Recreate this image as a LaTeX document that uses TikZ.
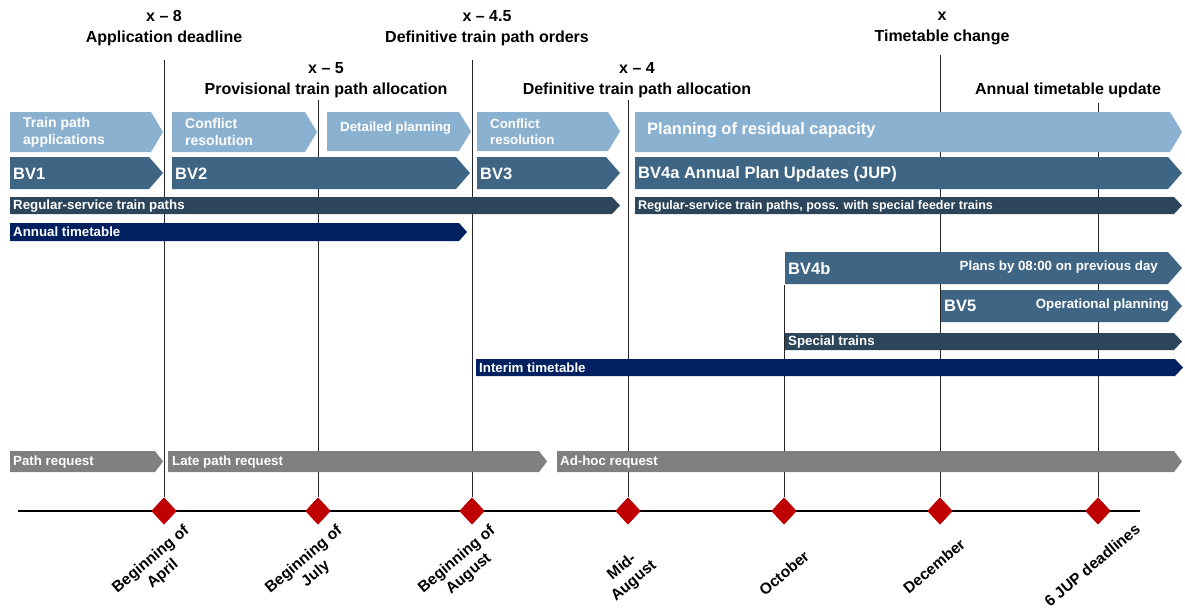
\documentclass[tikz,border=0pt]{standalone}
\usepackage{fontspec}
\setmainfont{Liberation Sans}
\usetikzlibrary{shapes.geometric}

\definecolor{planblue}{RGB}{139,177,209}
\definecolor{bvblue}{RGB}{63,101,133}
\definecolor{pathslate}{RGB}{44,69,90}
\definecolor{ttnavy}{RGB}{0,32,96}
\definecolor{reqgray}{RGB}{128,128,128}
\definecolor{msred}{RGB}{192,0,0}

\tikzset{
  milestone/.style={diamond,fill=msred,minimum width=25pt,minimum height=27pt,inner sep=0pt},
  msline/.style={draw=black!85,line width=0.9pt},
  axisline/.style={draw=black,line width=1.2pt},
  headtext/.style={font=\fontsize{16}{21}\selectfont\bfseries,align=center,inner sep=0pt},
  datetext/.style={font=\fontsize{15.5}{18.5}\selectfont\bfseries,align=center,rotate=40,inner sep=0pt},
  bartext/.style={anchor=west,text=white,font=\fontsize{13.3}{16}\selectfont\bfseries,inner sep=0pt,align=left},
  steptext/.style={bartext,font=\fontsize{14}{17}\selectfont\bfseries},
  bvtext/.style={bartext,font=\fontsize{16.5}{18}\selectfont\bfseries},
}

% bar with arrow point: colour, x1, x2, top, bottom, depth of point
\newcommand{\phasebar}[6]{%
  \fill[#1] (#2,#4) -- ({#3-#6},#4) -- (#3,{(#4+#5)/2}) -- ({#3-#6},#5) -- (#2,#5) -- cycle;}

\begin{document}
\begin{tikzpicture}[x=1pt,y=-1pt]
\useasboundingbox[fill=white] (0,0) rectangle (1185,610);

% milestone headings
\node[headtext] (hApp) at (164,28) {x – 8\\Application deadline};
\node[headtext] (hOrd) at (487,28) {x – 4.5\\Definitive train path orders};
\node[headtext] (hTT) at (942,28) {x\\Timetable change};
\node[headtext] (hProv) at (326,80) {x – 5\\Provisional train path allocation};
\node[headtext] (hDef) at (637,80) {x – 4\\Definitive train path allocation};
\node[headtext] (hJUP) at (1068,90) {Annual timetable update};

% time axis
\coordinate (axL) at (18,511);
\coordinate (axR) at (1140,511);
\draw[axisline] (axL) -- (axR);

% milestones
\foreach \mx/\mtop/\mname/\lx/\ly/\mdate in {
    164/60/apr/157/567/{Beginning of\\April},
    318/100/jul/310/567/{Beginning of\\July},
    472/60/aug/463/567/{Beginning of\\August},
    628/100/mid/628/574/{Mid-\\August},
    784/285/oct/784/573/{October},
    940/55/dec/934/566/{December},
    1098/103/jup/1092/565/{6 JUP deadlines}}{
  \coordinate (t\mname) at (\mx,\mtop);
  \node[milestone] (d\mname) at (\mx,511) {};
  \draw[msline] (t\mname) -- (d\mname.north);
  \node[datetext] (l\mname) at (\lx,\ly) {\mdate};
}
\foreach \mname in {apr,jul,aug,mid,oct,dec,jup}
  \node[milestone] at (d\mname) {};

% row 1: planning steps
\phasebar{planblue}{10}{163}{112}{152}{12}
\phasebar{planblue}{172}{317}{112}{152}{12}
\phasebar{planblue}{327}{471}{112}{151}{12}
\phasebar{planblue}{477}{620}{112}{151}{12}
\phasebar{planblue}{635}{1182}{112}{152}{12}
\node[steptext] (appl) at (23,132) {Train path\\applications};
\node[steptext] (conf1) at (185,132) {Conflict\\resolution};
\node[bartext] (detail) at (340,128) {Detailed planning};
\node[bartext] (conf2) at (490,132) {Conflict\\resolution};
\node[bartext,font=\fontsize{16.5}{18}\selectfont\bfseries] (resid) at (647,130) {Planning of residual capacity};

% row 2: BV phases
\phasebar{bvblue}{10}{163}{157}{189}{14}
\phasebar{bvblue}{172}{470}{157}{189}{14}
\phasebar{bvblue}{477}{620}{157}{189}{14}
\phasebar{bvblue}{635}{1182}{157}{189}{14}
\node[bvtext] (bv1) at (13,174) {BV1};
\node[bvtext] (bv2) at (175,174) {BV2};
\node[bvtext] (bv3) at (480,174) {BV3};
\node[bvtext] (bv4a) at (638,174) {BV4a Annual Plan Updates (JUP)};

% train paths and timetables
\phasebar{pathslate}{10}{620}{197}{214}{8}
\phasebar{pathslate}{635}{1182}{197}{214}{8}
\phasebar{ttnavy}{10}{467}{223}{241}{8}
\node[bartext] (reg1) at (13,206) {Regular-service train paths};
\node[bartext,font=\fontsize{12.5}{15}\selectfont\bfseries] (reg2) at (638,206) {Regular-service train paths, poss. with special feeder trains};
\node[bartext] (annual) at (13,232) {Annual timetable};

% short-term phases
\phasebar{bvblue}{785}{1182}{252}{284}{14}
\phasebar{bvblue}{941}{1182}{290}{322}{14}
\node[bvtext] (bv4b) at (788,269) {BV4b};
\node[bartext,anchor=east] (prevday) at (1158,267) {Plans by 08:00 on previous day};
\node[bvtext] (bv5) at (944,306) {BV5};
\node[bartext,anchor=east] (oper) at (1169,305) {Operational planning};
\phasebar{pathslate}{785}{1182}{333}{350}{8}
\phasebar{ttnavy}{476}{1183}{359}{376}{8}
\node[bartext] (special) at (788,342) {Special trains};
\node[bartext] (interim) at (479,368) {Interim timetable};

% requests
\phasebar{reqgray}{10}{163}{451}{472}{8}
\phasebar{reqgray}{168}{547}{451}{472}{8}
\phasebar{reqgray}{557}{1182}{451}{472}{8}
\node[bartext] (preq) at (13,462) {Path request};
\node[bartext] (lreq) at (172,462) {Late path request};
\node[bartext] (adhoc) at (560,462) {Ad-hoc request};
\end{tikzpicture}
\end{document}
